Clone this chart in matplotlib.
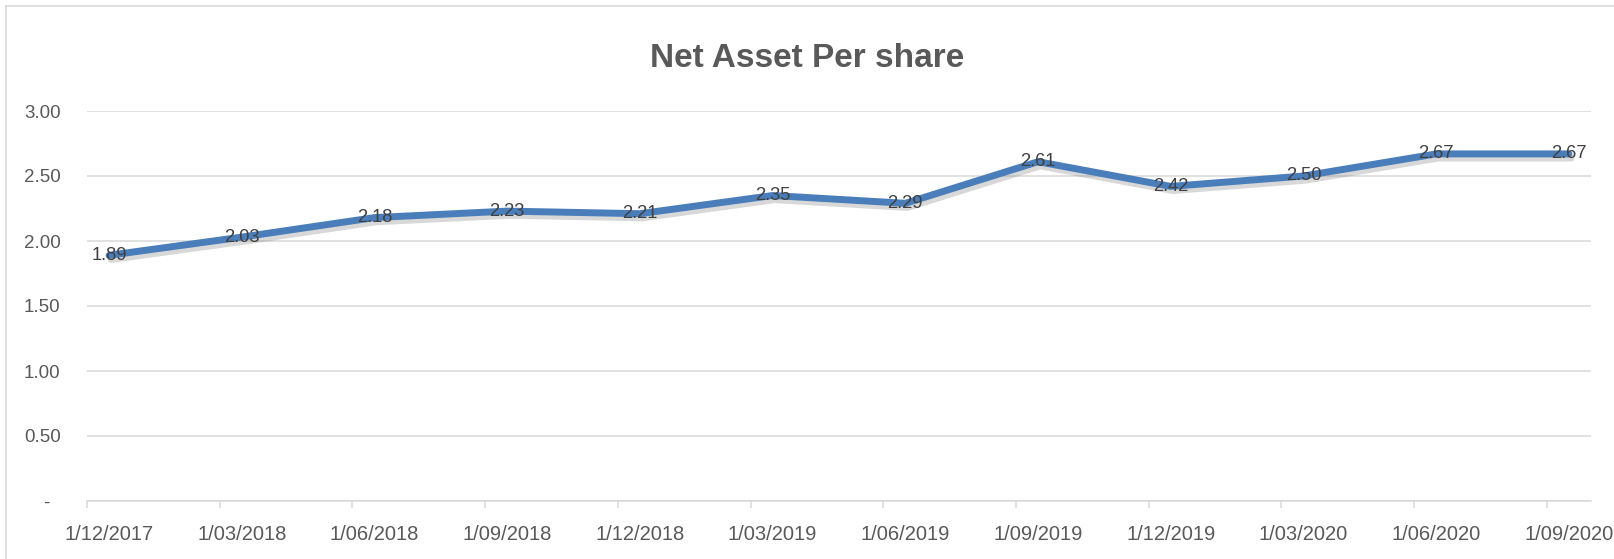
from datetime import datetime

import matplotlib
matplotlib.use("Agg")
from matplotlib import pyplot as plt
from matplotlib import font_manager
from matplotlib import patheffects
from matplotlib.patches import Rectangle

dates = ["1/12/2017", "1/03/2018", "1/06/2018", "1/09/2018", "1/12/2018", "1/03/2019",
         "1/06/2019", "1/09/2019", "1/12/2019", "1/03/2020", "1/06/2020", "1/09/2020"]
nav_per_share = [1.89, 2.03, 2.18, 2.23, 2.21, 2.35, 2.29, 2.61, 2.42, 2.50, 2.67, 2.67]
y_ticks = [0, 0.5, 1.0, 1.5, 2.0, 2.5, 3.0]
y_tick_labels = ["-  ", "0.50", "1.00", "1.50", "2.00", "2.50", "3.00"]

# pick a narrow font if there is one (the original is Calibri)
installed = {f.name for f in font_manager.fontManager.ttflist}
family = "DejaVu Sans"
for name in ["Liberation Sans Narrow", "Liberation Sans", "Open Sans"]:
    if name in installed:
        family = name
        break
plt.rcParams["font.family"] = [family, "DejaVu Sans"]

# excel date axis, base unit month: each point sits in the middle of its month
parsed = [datetime.strptime(d, "%d/%m/%Y") for d in dates]
months = [(d.year - parsed[0].year) * 12 + d.month - parsed[0].month for d in parsed]
x_points = [m + 0.5 for m in months]

fig = plt.figure(figsize=(16.14, 5.59), dpi=100)
ax = fig.add_axes([87 / 1614, 58 / 559, 1504 / 1614, 390 / 559])

line_color = "#4A7EBB"
ax.plot(x_points, nav_per_share, color=line_color, linewidth=5.0, solid_joinstyle="round",
        solid_capstyle="round", zorder=3,
        path_effects=[patheffects.SimpleLineShadow(offset=(1.5, -3), shadow_color="#7f7f7f", alpha=0.3),
                      patheffects.Normal()])

for x, v in zip(x_points, nav_per_share):
    ax.text(x, v, f"{v:.2f}", ha="center", va="center", fontsize=13.2, color="#404040", zorder=4)

ax.set_xlim(0, months[-1] + 1)
ax.set_ylim(0, 3)

ax.set_yticks(y_ticks, y_tick_labels)
ax.tick_params(axis="y", length=0, pad=19, labelsize=13.5, labelcolor="#595959")
ax.grid(axis="y", color="#D9D9D9", linewidth=1.1)
ax.set_axisbelow(True)

ax.set_xticks(months, [""] * len(months))
ax.set_xticks(x_points, dates, minor=True)
ax.tick_params(axis="x", which="major", length=5, width=1.1, color="#D9D9D9", direction="out")
ax.tick_params(axis="x", which="minor", length=0, pad=17, labelsize=14.5, labelcolor="#595959")

for side in ["top", "right", "left"]:
    ax.spines[side].set_visible(False)
ax.spines["bottom"].set_color("#D9D9D9")
ax.spines["bottom"].set_linewidth(1.1)

fig.text(0.5, 1 - 67 / 559, "Net Asset Per share", ha="center", va="baseline",
         fontsize=24, fontweight="bold", color="#595959")

# chart area border
fig.patches.append(Rectangle((6 / 1614, -0.1), 1.2, 1.1 - 6 / 559, transform=fig.transFigure,
                             fill=False, edgecolor="#D9D9D9", linewidth=1.2))

plt.savefig("out.png", dpi=100)
